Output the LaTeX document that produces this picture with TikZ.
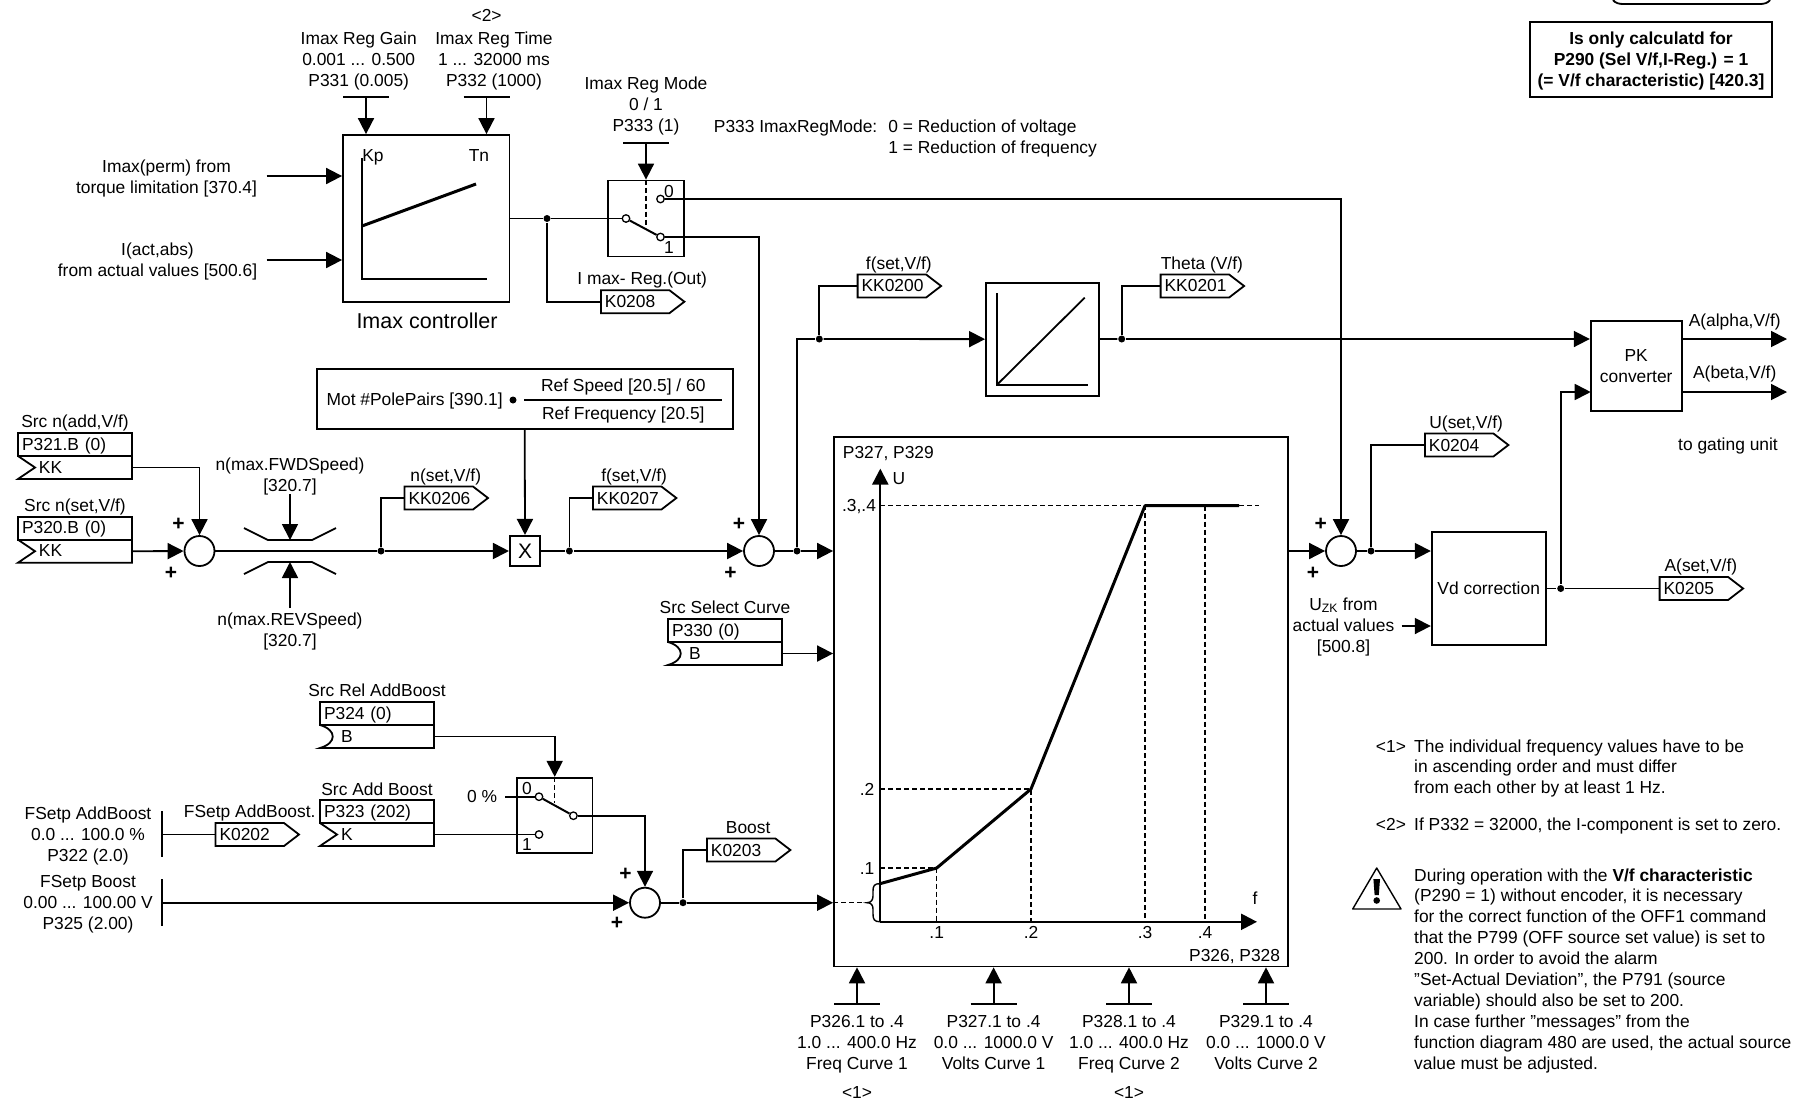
\documentclass[tikz,border=0pt]{standalone}
\usepackage{fontspec}
\setmainfont{Liberation Sans}
\usetikzlibrary{arrows.meta,positioning,shapes.symbols}
\newcommand{\srcbox}[6]{%
  \node[srccell,draw,anchor=north west] (#1) at (#2,#3) {#4};
  \node[srccell,anchor=north west] (#1v) at (#1.south west) {\hspace*{17pt}#5};
  \draw (#1v.north west) #6{#1} (#1v.south west) -- (#1v.south east) -- (#1v.north east);
}
\newcommand{\notchK}[1]{-- ++(17,11.5) --}
\newcommand{\notchB}[1]{.. controls ([shift={(17,5)}]#1v.north west) and ([shift={(17,18)}]#1v.north west) ..}
\begin{document}
\begin{tikzpicture}[x=1pt,y=-1pt,font=\fontsize{17.4}{21}\selectfont,line width=1.8pt,
  txt/.style={align=center,inner sep=0pt,text height=16pt,text depth=4pt},
  mlt/.style={align=center,inner sep=0pt,anchor=base},
  pls/.style={inner sep=0pt,font=\fontsize{21}{21}\selectfont\bfseries},
  tlab/.style={txt,xshift=7pt},
  blk/.style={draw,align=center,inner sep=0pt},
  sumc/.style={draw,circle,minimum size=30pt,inner sep=0pt},
  jn/.style={fill,circle,minimum size=7pt,inner sep=0pt},
  cont/.style={draw,fill=white,circle,minimum size=7.5pt,inner sep=0pt,line width=1.3pt},
  tagb/.style={draw,signal,signal to=east,signal pointer angle=75,text width=60.5pt,align=left,minimum height=23pt,inner xsep=4pt,inner ysep=0pt,anchor=west},
  srccell/.style={text width=106pt,align=left,inner xsep=4pt,inner ysep=3.5pt,text height=13.5pt,text depth=2.5pt,outer sep=0pt},
  arr/.style={-{Triangle[length=16pt,width=16pt]}},
  crv/.style={line width=3pt},
  axs/.style={line width=2.3pt},
  dsh/.style={dashed,dash pattern=on 5pt off 3pt,line width=1.3pt},
  note/.style={align=left,inner sep=0pt,anchor=north west,font=\fontsize{17.4}{20.9}\selectfont}]
  \useasboundingbox (0,0) rectangle (1798,1104);

  \draw (1613,0) .. controls (1615,3) and (1619,4) .. (1623,4) -- (1760,4) .. controls (1764,4) and (1768,3) .. (1770,0);
  \node[blk,minimum width=242pt,minimum height=75pt] (calc) at (1651,59.5) {};
  \node[mlt,font=\fontsize{17.4}{21}\selectfont\bfseries] (calctxt) at (1651,86) {Is only calculatd for\\P290 (Sel V/f,I-Reg.) = 1\\(= V/f characteristic) [420.3]};

  \node[blk,minimum width=166.4pt,minimum height=167pt] (ctl) at (426.2,218.5) {};
  \node[txt,font=\fontsize{21.5}{24}\selectfont] (ctlname) at (427,322) {Imax controller};
  \node[mlt] (gaintxt) at (358.7,86) {Imax Reg Gain\\0.001 ... 0.500\\P331 (0.005)};
  \node[mlt] (timetxt) at (494,86) {Imax Reg Time\\1 ... 32000 ms\\P332 (1000)};
  \node[txt] (note2) at (486.6,15) {<2>};
  \node[txt] (kp) at (373,155) {Kp};
  \node[txt] (tn) at (479,155) {Tn};
  \draw (362,158) -- (362,226);
  \draw[axs] (362,226) -- (362,279) -- (486.6,279);
  \draw[crv] (362,226) -- (476,184);
  \coordinate (gbar) at (366,97.3);
  \coordinate (tbar) at (486.5,97.3);
  \draw ([xshift=-23pt]gbar) -- ([xshift=23pt]gbar);
  \draw ([xshift=-23pt]tbar) -- ([xshift=23pt]tbar);
  \draw[arr] (gbar) -- (gbar |- ctl.north);
  \draw[arr] (tbar) -- (tbar |- ctl.north);
  \node[mlt] (permtxt) at (166.5,193) {Imax(perm) from\\torque limitation [370.4]};
  \node[mlt] (acttxt) at (157.5,276) {I(act,abs)\\from actual values [500.6]};
  \coordinate (perm) at (266.5,176);
  \coordinate (act) at (266.5,260);
  \draw[arr] (perm) -- (perm -| ctl.west);
  \draw[arr] (act) -- (act -| ctl.west);

  \node[blk,minimum width=76pt,minimum height=76pt] (sw1) at (645.6,218.5) {};
  \node[mlt] (modetxt) at (646,131) {Imax Reg Mode\\0 / 1\\P333 (1)};
  \coordinate (mbar) at (646,143);
  \draw ([xshift=-23pt]mbar) -- ([xshift=23pt]mbar);
  \draw[arr] (mbar) -- (mbar |- sw1.north);
  \node[cont] (s1in) at (626,218.5) {};
  \node[cont] (s1a) at (660.5,199) {};
  \node[cont] (s1b) at (660.5,237) {};
  \node[txt] (s1l0) at (669,191) {0};
  \node[txt] (s1l1) at (669,247) {1};
  \draw[line width=2pt] (s1in) -- (s1b);
  \coordinate (s1dash) at (646,225);
  \draw[dsh] (sw1.north -| mbar) -- (s1dash);
  \node[txt,anchor=west] (modehd) at (713,126) {P333 ImaxRegMode:};
  \node[txt,anchor=west] (mode0) at (887.5,126) {0 = Reduction of voltage};
  \node[txt,below=0pt of mode0.south west,anchor=north west] (mode1) {1 = Reduction of frequency};
  \node[jn] (j1) at (547,218.5) {};
  \draw (ctl) -- (j1);
  \draw (j1) -- (s1in);
  \node[tagb] (t208) at (600,301.7) {K0208};
  \node[tlab,above=-0.5pt of t208] (l208) {I max- Reg.(Out)};
  \draw (j1) |- (t208.west);

  \srcbox{p321}{18}{433}{P321.B (0)}{KK}{\notchK}
  \srcbox{p320}{18}{516.7}{P320.B (0)}{KK}{\notchK}
  \node[txt,above=0.5pt of p321] (l321) {Src n(add,V/f)};
  \node[txt,above=0.5pt of p320] (l320) {Src n(set,V/f)};
  \node[sumc] (sum1) at (199.5,551) {};
  \draw[arr] (p321v.east) -| (sum1);
  \draw[arr] (p320v.east) -- (sum1);
  \draw (244,528) -- (268,540) -- (312,540) -- (336,528);
  \draw (244,574) -- (268,562) -- (312,562) -- (336,574);
  \node[mlt] (fwdtxt) at (290,491) {n(max.FWDSpeed)\\{}[320.7]};
  \node[mlt] (revtxt) at (290,646) {n(max.REVSpeed)\\{}[320.7]};
  \coordinate (fwd) at (290,494);
  \coordinate (fwdlim) at (290,540);
  \coordinate (rev) at (290,608);
  \coordinate (revlim) at (290,562);
  \draw[arr] (fwd) -- (fwdlim);
  \draw[arr] (rev) -- (revlim);
  \node[jn] (j2) at (381,551) {};
  \draw (sum1) -- (j2);
  \node[tagb] (t206) at (403.6,498) {KK0206};
  \node[tlab,above=-0.5pt of t206] (l206) {n(set,V/f)};
  \draw (j2) |- (t206.west);
  \node[blk,minimum width=30.3pt,minimum height=30.3pt,font=\fontsize{21}{21}\selectfont] (xb) at (525,551) {X};
  \draw[arr] (j2) -- (xb);
  \node[blk,minimum width=416pt,minimum height=60pt] (ref) at (524.7,399.3) {};
  \node[txt,anchor=west] (mot) at (325.7,399) {Mot \#PolePairs [390.1]};
  \node[jn] (motdot) at (513,400) {};
  \node[txt] (refsp) at (623.3,385.7) {Ref Speed [20.5] / 60};
  \node[txt] (reffr) at (623.3,413) {Ref Frequency [20.5]};
  \draw (524,400) -- (721.7,400);
  \draw[arr] (ref.south) -- (xb.north);
  \node[jn] (j3) at (569.4,551) {};
  \draw (xb) -- (j3);
  \node[tagb] (t207) at (592,498) {KK0207};
  \node[tlab,above=-0.5pt of t207] (l207) {f(set,V/f)};
  \draw (j3) |- (t207.west);
  \node[sumc] (sum2) at (759,551) {};
  \draw[arr] (j3) -- (sum2);
  \draw[arr] (s1b) -| (sum2);
  \foreach \n/\xp/\yp in {a/178.6/524,b/171/573,c/739/524,d/730.6/573,e/625.5/874,f/617/923,g/1320.7/524,h/1313/573}{
    \node[pls] (plus\n) at (\xp,\yp) {+};
  }

  \node[blk,minimum width=454pt,minimum height=529.4pt] (cv) at (1061,701.7) {};
  \node[txt,anchor=west] (lu) at (842,452) {P327, P329};
  \node[txt,anchor=east] (lf) at (1281,955) {P326, P328};
  \coordinate (org) at (880.3,921.8);
  \coordinate (utop) at (880.3,468.6);
  \coordinate (fend) at (1257,921.8);
  \draw[axs,-{Triangle[length=16pt,width=16pt]}] (org) -- (utop);
  \draw[axs,-{Triangle[length=16pt,width=16pt]}] (org) -- (fend);
  \node[txt] (lblu) at (899,478) {U};
  \node[txt] (lblf) at (1255,898) {f};
  \coordinate (q0) at (880.3,883.6);
  \coordinate (q1) at (936.7,868);
  \coordinate (q2) at (1031,789);
  \coordinate (q3) at (1145,505.7);
  \coordinate (q4) at (1205,505.7);
  \coordinate (qe) at (1239,505.7);
  \draw[dsh] (q1 -| org) -- (q1) -- (q1 |- org);
  \draw[dsh] (q2 -| org) -- (q2) -- (q2 |- org);
  \draw[dsh] (q3 -| org) -- (q3) -- (q3 |- org);
  \draw[dsh] (q4) -- (q4 |- org);
  \draw[dsh] (qe) -- (1259,505.7);
  \draw[crv,line join=round] (q0) -- (q1) -- (q2) -- (q3) -- (qe);
  \node[txt] (y34) at (859,505.7) {.3,.4};
  \node[txt] (y2) at (867,789) {.2};
  \node[txt] (y1) at (867,868) {.1};
  \node[txt] (x1) at (936.7,932.5) {.1};
  \node[txt] (x2) at (1031,932.5) {.2};
  \node[txt] (x3) at (1145,932.5) {.3};
  \node[txt] (x4) at (1205,932.5) {.4};
  \draw[line width=1.4pt] (880.3,883.6) .. controls (874,883.6) and (873,886) .. (873,891) -- (873,896) .. controls (873,900) and (871,902.7) .. (867,902.7) .. controls (871,902.7) and (873,905) .. (873,909) -- (873,914) .. controls (873,919) and (874,921.8) .. (880.3,921.8);

  \foreach \n/\xp/\ta/\tb/\tc in {a/857/{P326.1 to .4}/{1.0 ... 400.0 Hz}/{Freq Curve 1},b/993.6/{P327.1 to .4}/{0.0 ... 1000.0 V}/{Volts Curve 1},c/1129/{P328.1 to .4}/{1.0 ... 400.0 Hz}/{Freq Curve 2},d/1266/{P329.1 to .4}/{0.0 ... 1000.0 V}/{Volts Curve 2}}{
    \coordinate (bar\n) at (\xp,1004);
    \draw ([xshift=-23pt]bar\n) -- ([xshift=23pt]bar\n);
    \draw[arr] (bar\n) -- (bar\n |- cv.south);
    \node[mlt] (par\n) at (\xp,1069.7) {\ta\\\tb\\\tc};
  }
  \node[txt] (ma) at (857,1092) {<1>};
  \node[txt] (mc) at (1129,1092) {<1>};

  \node[jn] (j4) at (797,551) {};
  \draw (sum2) -- (j4);
  \draw[arr] (j4) -- (j4 -| cv.west);
  \node[jn] (j5) at (819.3,339) {};
  \draw (j4) |- (j5);
  \node[tagb] (t200) at (856.7,286) {KK0200};
  \node[tlab,above=-0.5pt of t200] (l200) {f(set,V/f)};
  \draw (j5) |- (t200.west);
  \node[blk,minimum width=113.3pt,minimum height=113pt] (ramp) at (1042.6,339.2) {};
  \draw[arr] (j5) -- (ramp);
  \draw (997,293) -- (997,384.7) -- (1088,384.7);
  \draw (997,384.7) -- (1084.7,297.7);
  \node[jn] (j6) at (1121.7,339) {};
  \draw (ramp) -- (j6);
  \node[tagb] (t201) at (1159.7,286) {KK0201};
  \node[tlab,above=-0.5pt of t201] (l201) {Theta (V/f)};
  \draw (j6) |- (t201.west);

  \node[blk,minimum width=91pt,minimum height=90pt] (pk) at (1636.2,365.7) {PK\\converter};
  \draw[arr] (j6) -- (j6 -| pk.west);
  \coordinate (pkb) at (1590.7,392);
  \coordinate (outa) at (1787,339);
  \coordinate (outb) at (1787,392);
  \draw[arr] (outa -| pk.east) -- (outa);
  \draw[arr] (outb -| pk.east) -- (outb);
  \node[txt] (la) at (1734.7,320) {A(alpha,V/f)};
  \node[txt] (lb) at (1734.7,372) {A(beta,V/f)};
  \node[txt] (gate) at (1728,444.7) {to gating unit};

  \node[sumc] (sum4) at (1341,551) {};
  \draw[arr] (cv.east |- sum4) -- (sum4);
  \draw[arr] (s1a) -| (sum4);
  \node[jn] (j7) at (1371,551) {};
  \draw (sum4) -- (j7);
  \node[tagb] (t204) at (1424,445) {K0204};
  \node[tlab,above=-0.5pt of t204] (l204) {U(set,V/f)};
  \draw (j7) |- (t204.west);
  \node[blk,minimum width=114pt,minimum height=113.6pt] (vd) at (1488.7,588.5) {Vd correction};
  \draw[arr] (j7) -- (j7 -| vd.west);
  \node[mlt] (uzk) at (1343.5,652) {U\textsubscript{ZK} from\\actual values\\{}[500.8]};
  \coordinate (uzin) at (1401.7,626);
  \draw[arr] (uzin) -- (uzin -| vd.west);
  \node[jn] (j8) at (1560.7,588.5) {};
  \draw (vd) -- (j8);
  \draw[arr] (j8) |- (pkb);
  \node[tagb] (t205) at (1658.7,588.5) {K0205};
  \node[tlab,above=-0.5pt of t205] (l205) {A(set,V/f)};
  \draw (j8) -- (t205.west);

  \srcbox{p330}{668}{619}{P330 (0)}{B}{\notchB}
  \node[txt,above=1pt of p330] (l330) {Src Select Curve};
  \draw[arr] (p330v.east) -- (p330v.east -| cv.west);

  \srcbox{p324}{320}{702}{P324 (0)}{B}{\notchB}
  \node[txt,above=1pt of p324] (l324) {Src Rel AddBoost};
  \srcbox{p323}{320}{800}{P323 (202)}{K}{\notchK}
  \node[txt,above=0pt of p323] (l323) {Src Add Boost};
  \node[blk,minimum width=75.4pt,minimum height=75.3pt] (sw2) at (554.7,815.4) {};
  \draw[arr] (p324v.east) -| (sw2.north);
  \node[cont] (s2a) at (539,796.7) {};
  \node[cont] (s2b) at (539,834.5) {};
  \node[cont] (s2out) at (573.4,815.7) {};
  \node[txt] (s2l0) at (527,788) {0};
  \node[txt] (s2l1) at (527,844) {1};
  \draw[line width=2pt] (s2a) -- (s2out);
  \coordinate (s2dash) at (554.7,803);
  \draw[dsh] (sw2.north) -- (s2dash);
  \node[txt] (pct) at (482,796.7) {0 \%};
  \coordinate (pctout) at (505,796.7);
  \draw (pctout) -- (s2a);
  \draw (p323v.east) -- (s2b);
  \node[tagb] (t202) at (214.6,834.5) {K0202};
  \node[txt,above=-0.5pt of t202] (l202) {FSetp AddBoost.};
  \coordinate (fa) at (162,834.5);
  \draw (162,811) -- (162,857);
  \draw (fa) -- (t202.west);
  \node[mlt] (fatxt) at (88,861) {FSetp AddBoost\\0.0 ... 100.0 \%\\P322 (2.0)};
  \node[mlt] (fbtxt) at (88,929.7) {FSetp Boost\\0.00 ... 100.00 V\\P325 (2.00)};
  \node[sumc] (sum3) at (645,902.7) {};
  \coordinate (fb) at (162,902.7);
  \draw (162,879) -- (162,926);
  \draw[arr] (fb) -- (sum3);
  \draw[arr] (s2out) -| (sum3);
  \node[jn] (j9) at (683,902.7) {};
  \draw (sum3) -- (j9);
  \node[tagb] (t203) at (706,850) {K0203};
  \node[tlab,above=-0.5pt of t203] (l203) {Boost};
  \draw (j9) |- (t203.west);
  \draw[arr] (j9) -- (j9 -| cv.west);
  \coordinate (bracetip) at (867,902.7);
  \draw[dsh] (j9 -| cv.west) -- (bracetip);

  \node[txt,anchor=west] (m1) at (1375,746) {<1>};
  \node[note] (n1) at (1413.3,738.5) {The individual frequency values have to be\\in ascending order and must differ\\from each other by at least 1 Hz.};
  \node[txt,anchor=west] (m2) at (1375,824) {<2>};
  \node[note] (n2) at (1413.3,817) {If P332 = 32000, the I-component is set to zero.};
  \node[note] (n3) at (1413.3,867.5) {During operation with the \textbf{V/f characteristic}\\(P290 = 1) without encoder, it is necessary\\for the correct function of the OFF1 command\\that the P799 (OFF source set value) is set to\\200. In order to avoid the alarm\\”Set-Actual Deviation”, the P791 (source\\variable) should also be set to 200.\\In case further ”messages” from the\\function diagram 480 are used, the actual source\\value must be adjusted.};
  \draw[line width=1.4pt,line join=round] (1376.7,868) -- (1401,909) -- (1352.7,909) -- cycle;
  \fill (1373.4,879) -- (1380,879) -- (1378.8,895) -- (1374.6,895) -- cycle;
  \fill (1376.7,900.5) circle (3.3pt);
\end{tikzpicture}
\end{document}
